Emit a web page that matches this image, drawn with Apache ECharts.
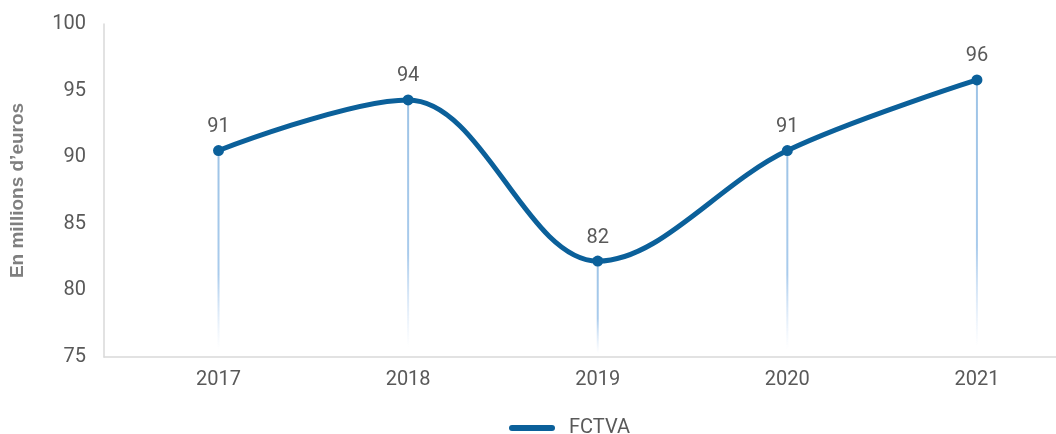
<!DOCTYPE html>
<html>
<head>
<meta charset="utf-8">
<script src="https://cdn.jsdelivr.net/npm/echarts@6/dist/echarts.min.js"></script>
<style>html,body{margin:0;padding:0;background:#fff}#c{width:1056px;height:434px}</style>
</head>
<body>
<div id="c"></div>
<script>
var years = [2017, 2018, 2019, 2020, 2021];
var fctva = [90.5, 94.3, 82.2, 90.5, 95.8];
var yTicks = [75, 80, 85, 90, 95, 100];
var seriesName = 'FCTVA';
var axisTitle = 'En millions d\u2019euros';

var pts = years.map(function (y, i) { return [y, fctva[i]]; });
var chart = echarts.init(document.getElementById('c'));
var txt = '#595959';
chart.setOption({
  animation: false,
  textStyle: { fontFamily: 'Roboto' },
  grid: { left: 102, right: 0, top: 24, bottom: 77 },
  xAxis: {
    type: 'value', min: 2016.396, max: 2021.417,
    splitLine: { show: false },
    axisLine: { show: true, lineStyle: { color: '#d9d9d9', width: 1.5 } },
    axisTick: { show: false },
    axisLabel: { customValues: years, color: txt, fontSize: 20, margin: 13, fontFamily: 'Roboto',
      formatter: function (v) { return String(v); } }
  },
  yAxis: {
    type: 'value', min: yTicks[0], max: yTicks[yTicks.length - 1], interval: 5,
    name: axisTitle, nameLocation: 'middle', nameGap: 77, nameRotate: 90,
    nameTextStyle: { color: '#7f7f7f', fontSize: 19, fontWeight: 'bold', fontFamily: 'Liberation Sans' },
    splitLine: { show: false },
    axisLine: { show: true, lineStyle: { color: '#d9d9d9', width: 1.5 } },
    axisTick: { show: false },
    axisLabel: { color: txt, fontSize: 20, margin: 18, fontFamily: 'Roboto' }
  },
  legend: {
    left: 509, top: 418, padding: 0, itemWidth: 46, itemHeight: 6, itemGap: 10,
    icon: 'path://M3,0 L43,0 A3,3 0 0 1 43,6 L3,6 A3,3 0 0 1 3,0 Z',
    data: [seriesName],
    textStyle: { color: txt, fontSize: 20, fontFamily: 'Roboto', padding: [0, 0, 0, 9] }
  },
  series: [
    {
      name: 'drop', type: 'bar', data: pts, barWidth: 2, silent: true,
      itemStyle: {
        color: new echarts.graphic.LinearGradient(0, 0, 0, 1, [
          { offset: 0, color: '#9dc3e6' },
          { offset: 0.6, color: '#a9cbec' },
          { offset: 0.96, color: 'rgba(200,220,245,0)' },
          { offset: 1, color: 'rgba(255,255,255,0)' }
        ])
      }
    },
    {
      name: seriesName, type: 'line', data: pts, smooth: 0.35,
      symbol: 'circle', symbolSize: 11,
      lineStyle: { color: '#0b609a', width: 5 },
      itemStyle: { color: '#0b609a' },
      label: {
        show: true, position: 'top', distance: 8, color: txt, fontSize: 20, fontFamily: 'Roboto',
        formatter: function (p) { return Math.round(p.value[1]); }
      }
    }
  ]
});
</script>
</body>
</html>
